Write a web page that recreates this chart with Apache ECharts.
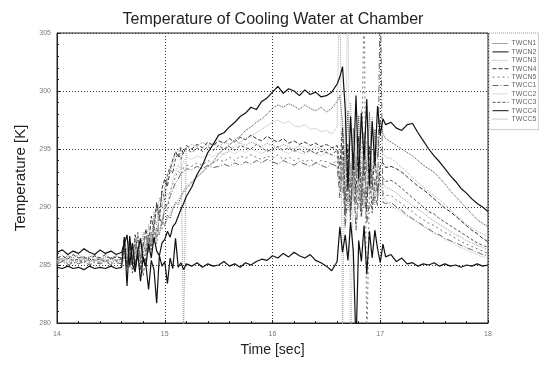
<!DOCTYPE html>
<html>
<head>
<meta charset="utf-8">
<script src="https://cdn.jsdelivr.net/npm/echarts@6/dist/echarts.min.js"></script>
<style>
  html, body { margin: 0; padding: 0; background: #fff; }
  #chart { width: 546px; height: 366px; }
</style>
</head>
<body>
<div id="chart"></div>
<script>
// time samples [sec], denser where the signals jump around
const time = [
  14.00, 14.05, 14.10, 14.15, 14.20, 14.25, 14.30, 14.35, 14.40, 14.45, 14.50, 14.55, 14.60,
  14.625, 14.65, 14.675, 14.70, 14.725, 14.75, 14.775, 14.80, 14.825, 14.85, 14.875, 14.90,
  14.925, 14.95, 14.975, 15.00, 15.025, 15.05, 15.075, 15.10, 15.125, 15.15, 15.175, 15.20,
  15.25, 15.30, 15.35, 15.40, 15.45, 15.50, 15.55, 15.60, 15.65, 15.70, 15.75, 15.80, 15.85, 15.90,
  15.95, 16.00, 16.05, 16.10, 16.15, 16.20, 16.25, 16.30, 16.35, 16.40, 16.45, 16.50, 16.55, 16.60,
  16.625, 16.65, 16.675, 16.70, 16.725, 16.75, 16.775, 16.80, 16.825, 16.85, 16.875, 16.90,
  16.925, 16.95, 16.975, 17.00, 17.025, 17.05,
  17.10, 17.15, 17.20, 17.25, 17.30, 17.35, 17.40, 17.45, 17.50, 17.55, 17.60, 17.65, 17.70,
  17.75, 17.80, 17.85, 17.90, 17.95, 18.00
];

const twcn1 = [
  285.7, 285.5, 285.8, 285.6, 285.9, 285.5, 285.7, 285.8, 285.4, 285.7, 285.6, 285.8, 285.5,
  286.2, 285.1, 286.9, 285.6, 286.4, 287.2, 285.8, 286.6, 287.5, 286.1, 287.8, 286.9, 288.2, 287.6, 288.9, 288.4, 289.3, 289.0, 289.8, 290.4, 290.2, 290.9, 291.3, 291.6,
  292.1, 292.6, 293.0, 293.5, 293.9, 294.6, 295.0, 295.3, 295.8, 296.1, 296.6, 296.9, 297.3, 297.6, 298.0, 298.5, 298.8, 298.6, 298.9, 298.7, 298.4, 298.8, 298.5, 298.3, 298.6, 298.2, 298.5, 299.1,
  299.6, 297.2, 293.4, 298.3, 291.6, 296.8, 292.7, 297.9, 290.8, 296.4, 293.1, 298.2, 291.9, 296.7, 294.2, 297.5, 296.3, 295.9,
  295.6, 295.3, 295.0, 294.7, 294.4, 294.0, 293.6, 293.3, 293.0, 292.5, 292.0, 291.4, 290.9, 290.4, 289.9, 289.4, 288.9, 288.6, 288.3
];
const twcn2 = [
  286.1, 286.3, 285.9, 286.2, 286.0, 286.4, 286.1, 285.9, 286.3, 286.0, 286.2, 285.9, 286.1,
  286.8, 287.6, 285.0, 286.9, 284.6, 286.2, 287.3, 285.4, 284.9, 286.8, 285.6, 287.4, 286.2, 285.8, 286.9, 287.2, 287.9, 287.4, 288.3, 288.6, 289.2, 289.8, 290.3, 290.9,
  291.7, 292.8, 293.6, 294.7, 295.4, 296.2, 296.4, 296.9, 297.3, 297.8, 298.1, 298.6, 298.4, 299.1, 299.4, 299.9, 300.4, 299.8, 300.2, 300.0, 299.6, 300.1, 299.7, 299.9, 299.5, 299.6, 299.9, 300.6,
  301.2, 302.1, 298.4, 291.5, 297.8, 293.2, 299.6, 292.4, 298.1, 294.0, 299.3, 291.8, 297.4, 293.6, 298.7, 296.2, 297.6, 297.1,
  297.3, 296.8, 296.6, 297.1, 297.2, 296.4, 295.7, 295.0, 294.4, 293.9, 293.3, 292.7, 292.2, 291.6, 291.2, 290.7, 290.3, 290.0, 289.6
];
const twcn3 = [
  285.4, 285.6, 285.3, 285.5, 285.4, 285.7, 285.3, 285.5, 285.6, 285.3, 285.5, 285.4, 285.6,
  285.9, 286.5, 285.3, 286.8, 285.7, 286.3, 287.1, 286.0, 286.9, 287.4, 286.6, 287.8, 287.2, 288.1, 288.6, 288.3, 289.0, 289.5, 289.9, 290.2, 290.7, 291.0, 291.4, 291.8,
  292.2, 292.6, 293.0, 293.4, 293.8, 294.2, 294.6, 294.9, 295.2, 295.6, 295.9, 296.1, 296.4, 296.7, 297.0, 297.3, 297.5, 297.2, 297.4, 297.0, 296.9, 297.1, 296.7, 296.8, 296.5, 296.6, 296.3, 296.9,
  312.0, 279.0, 297.5, 293.1, 299.0, 291.4, 296.2, 293.8, 298.4, 292.3, 295.7, 294.6, 297.8, 293.0, 296.1, 295.0, 294.6, 294.3,
  294.2, 293.8, 293.4, 293.0, 292.5, 292.1, 291.7, 291.3, 291.0, 290.6, 290.2, 289.8, 289.3, 288.9, 288.5, 288.2, 287.9, 287.7, 287.5
];
const twcn4 = [
  285.6, 285.8, 285.5, 285.9, 285.6, 285.7, 285.4, 285.8, 285.6, 285.9, 285.5, 285.7, 285.6,
  287.4, 284.8, 286.9, 285.2, 287.6, 285.9, 284.6, 286.8, 288.1, 286.5, 289.2, 287.9, 290.4, 289.1, 291.6, 292.4, 291.8, 293.2, 294.1, 294.8, 294.3, 295.1, 294.6, 295.3,
  295.0, 295.4, 295.1, 295.6, 295.3, 295.7, 295.5, 295.9, 295.6, 296.0, 295.8, 296.2, 295.9, 295.7, 296.1, 295.8, 295.6, 295.9, 295.5, 295.7, 295.4, 295.6, 295.3, 295.5, 295.2, 295.4, 295.1, 295.3,
  293.5, 296.8, 290.6, 295.4, 289.8, 294.7, 291.2, 296.1, 290.3, 293.9, 289.6, 295.2, 291.5, 294.8, 290.9, 293.6, 293.8, 293.4,
  293.5, 293.3, 293.0, 292.6, 292.2, 291.8, 291.5, 291.1, 290.7, 290.3, 289.9, 289.6, 289.2, 288.8, 288.4, 288.0, 287.7, 287.3, 287.0
];
const twcn5 = [
  285.2, 285.4, 285.1, 285.3, 285.2, 285.4, 285.1, 285.3, 285.2, 285.4, 285.1, 285.3, 285.2,
  285.8, 284.9, 286.4, 285.1, 286.9, 285.5, 284.7, 286.2, 285.3, 287.1, 286.0, 287.9, 286.8, 289.3, 288.1, 290.2, 289.6, 291.4, 292.0, 292.6, 293.1, 292.8, 293.4, 293.6,
  293.5, 293.8, 293.6, 294.0, 293.8, 294.1, 293.9, 294.3, 294.0, 294.4, 294.2, 294.5, 294.3, 294.1, 294.4, 294.2, 294.5, 294.1, 294.3, 294.0, 294.2, 293.9, 294.1, 293.8, 294.0, 293.9, 293.7, 294.0,
  291.6, 294.1, 288.7, 292.9, 290.1, 293.5, 288.4, 291.8, 289.7, 310.0, 277.0, 292.1, 290.3, 291.6, 290.8, 291.5, 291.2, 291.0,
  291.0, 290.6, 290.3, 289.9, 289.6, 289.2, 288.9, 288.6, 288.4, 288.1, 287.8, 287.6, 287.3, 287.0, 286.8, 286.6, 286.4, 286.2, 286.0
];
const twcc1 = [
  285.1, 285.3, 285.0, 285.2, 285.1, 285.3, 285.0, 285.2, 285.1, 285.3, 285.0, 285.2, 285.1,
  285.5, 286.2, 284.8, 285.9, 285.2, 286.6, 285.4, 286.9, 286.1, 287.5, 286.7, 288.3, 287.4, 289.0, 288.6, 289.8, 290.3, 290.9, 291.5, 292.1, 292.4, 292.9, 293.0, 293.3,
  293.2, 293.5, 293.3, 293.6, 293.4, 293.5, 293.7, 293.5, 293.8, 293.6, 293.9, 293.7, 294.0, 293.8, 294.1, 293.9, 293.7, 294.0, 293.8, 293.6, 293.9, 293.7, 293.5, 293.8, 293.6, 293.4, 293.7, 293.5,
  290.8, 293.4, 288.2, 291.6, 289.5, 292.8, 288.0, 290.9, 289.2, 291.7, 288.6, 290.4, 289.9, 291.0, 290.1, 309.0, 290.4, 290.3,
  290.4, 290.0, 289.7, 289.3, 289.0, 288.7, 288.4, 288.1, 287.8, 287.6, 287.3, 287.1, 286.9, 286.7, 286.5, 286.3, 286.1, 285.9, 285.8
];
const twcc2 = [
  285.4, 285.2, 285.5, 285.3, 285.4, 285.6, 285.3, 285.5, 285.2, 285.4, 285.3, 285.5, 285.4,
  286.0, 285.4, 286.7, 285.0, 286.3, 285.6, 287.0, 285.8, 286.5, 287.6, 286.9, 288.4, 287.5, 289.6, 288.8, 290.5, 291.2, 290.8, 292.4, 293.0, 293.6, 293.2, 294.0, 294.3,
  294.1, 294.4, 294.2, 294.6, 294.3, 294.7, 294.5, 294.8, 294.6, 294.9, 294.7, 295.0, 294.8, 294.6, 294.9, 294.7, 295.0, 294.8, 294.6, 294.9, 294.7, 294.5, 294.8, 294.6, 294.4, 294.7, 294.5, 294.3,
  292.3, 293.5, 291.1, 310.0, 276.0, 292.6, 290.4, 293.9, 289.8, 292.2, 291.4, 293.1, 290.6, 292.5, 290.9, 292.0, 291.1, 290.6,
  290.1, 289.8, 289.5, 289.2, 288.9, 288.6, 288.3, 288.0, 287.7, 287.5, 287.2, 287.0, 286.7, 286.5, 286.3, 286.1, 285.9, 285.7, 285.6
];
const twcc3 = [
  285.5, 285.3, 285.6, 285.4, 285.5, 285.2, 285.6, 285.4, 285.5, 285.3, 285.6, 285.4, 285.5,
  286.4, 285.0, 287.3, 284.3, 286.1, 287.8, 285.2, 284.1, 285.9, 287.6, 286.3, 288.8, 290.2, 288.9, 291.4, 290.6, 292.8, 293.5, 292.9, 294.2, 294.6, 294.1, 294.8, 295.0,
  294.7, 295.1, 294.8, 295.2, 294.9, 295.3, 295.0, 295.2, 294.9, 295.3, 295.1, 295.0, 295.4, 295.1, 294.8, 295.0, 295.2, 294.9, 295.1, 294.8, 295.0, 294.7, 294.9, 294.6, 294.8, 294.7, 294.5, 294.9,
  292.1, 295.3, 289.4, 293.8, 288.9, 294.6, 290.2, 292.7, 289.1, 295.0, 290.8, 293.2, 289.5, 292.4, 291.3, 292.8, 292.5, 292.2,
  292.3, 292.0, 291.6, 291.2, 290.8, 290.4, 290.0, 289.6, 289.4, 289.0, 288.7, 288.4, 288.1, 287.8, 287.5, 287.2, 286.9, 286.7, 286.5
];
const twcc4 = [
  284.8, 284.7, 284.9, 284.7, 284.8, 284.6, 284.9, 284.7, 284.8, 284.7, 284.9, 284.7, 284.8,
  287.4, 283.2, 287.5, 285.1, 284.4, 286.1, 283.6, 285.7, 285.0, 282.9, 285.4, 284.6, 281.7, 285.8, 284.9, 285.3, 283.4, 285.6, 284.7, 287.3, 284.8, 285.2, 284.6, 285.1,
  284.9, 285.2, 284.8, 285.1, 284.9, 285.0, 285.3, 284.9, 285.1, 284.8, 285.2, 285.0, 285.3, 285.5, 285.4, 285.8, 285.6, 286.0, 285.7, 286.1, 285.8, 285.6, 285.9, 285.4, 285.2, 284.9, 284.5, 285.3,
  288.3, 286.1, 287.6, 285.4, 288.7, 286.2, 278.0, 287.1, 285.3, 288.4, 284.2, 287.9, 285.6, 288.0, 286.4, 285.2, 286.8, 285.7,
  285.9, 285.3, 285.6, 285.1, 285.2, 284.9, 285.1, 285.0, 285.2, 284.9, 285.1, 284.9, 285.0, 284.8, 285.0, 284.9, 285.1, 284.9, 285.0
];
const twcc5 = [
  285.3, 285.5, 285.2, 285.4, 285.3, 285.5, 285.2, 285.4, 285.3, 285.5, 285.2, 285.4, 285.3,
  285.7, 286.5, 285.1, 286.0, 287.2, 285.5, 286.4, 287.8, 286.3, 288.5, 287.1, 289.6, 288.4, 290.8, 289.9, 291.7, 292.5, 293.3, 293.9, 294.6, 294.9, 295.2, 279.0, 295.1,
  295.4, 295.2, 295.6, 295.3, 295.5, 295.2, 295.6, 295.4, 295.7, 295.5, 295.3, 295.6, 295.4, 295.2, 295.5, 295.3, 295.1, 295.4, 295.2, 295.0, 295.3, 295.1, 294.9, 295.2, 295.0, 294.8, 295.1, 294.9,
  293.6, 291.2, 295.0, 289.7, 293.8, 290.5, 294.4, 291.3, 292.6, 289.9, 293.7, 291.0, 292.8, 290.2, 293.4, 291.8, 292.0, 291.7,
  291.5, 291.2, 290.8, 290.5, 290.1, 289.8, 289.5, 289.1, 288.8, 288.5, 288.2, 287.9, 287.6, 287.4, 287.1, 286.9, 286.7, 286.5, 286.3
];

const seriesNames = ["TWCN1", "TWCN2", "TWCN3", "TWCN4", "TWCN5", "TWCC1", "TWCC2", "TWCC3", "TWCC4", "TWCC5"];
const seriesValues = [twcn1, twcn2, twcn3, twcn4, twcn5, twcc1, twcc2, twcc3, twcc4, twcc5];
const xTicks = [14, 15, 16, 17, 18];
const yTicks = [280, 285, 290, 295, 300, 305];

// line looks per series: [colour, dash, width]
const looks = [
  ["#444", [1, 1], 1],
  ["#111", "solid", 1.2],
  ["#aaa", [1, 1], 1],
  ["#333", [4, 2], 1],
  ["#777", [2, 3], 1],
  ["#666", [6, 2, 1, 2], 1],
  ["#bbb", [1, 1], 1],
  ["#555", [3, 2], 1],
  ["#111", "solid", 1.2],
  ["#999", [1, 1], 1]
];

const chart = echarts.init(document.getElementById("chart"));
const font = "Liberation Sans, Arial, sans-serif";

const option = {
  animation: false,
  backgroundColor: "#fff",
  title: {
    text: "Temperature of Cooling Water at Chamber",
    left: "center",
    top: 7,
    textStyle: { color: "#222", fontSize: 16, fontWeight: "normal", fontFamily: font }
  },
  legend: {
    orient: "vertical",
    left: 489,
    top: 33,
    width: 57,
    padding: [7, 2, 7, 3],
    itemWidth: 16,
    itemHeight: 8,
    itemGap: 1.4,
    borderColor: "#999",
    borderWidth: 1,
    borderType: "dotted",
    itemStyle: { color: "rgba(0,0,0,0)", borderWidth: 0, opacity: 0 },
    lineStyle: { width: 1 },
    textStyle: { color: "#666", fontSize: 7, fontFamily: font, padding: [0, 0, 0, -2] },
    data: seriesNames
  },
  grid: {
    left: 57,
    right: 58,
    top: 33,
    bottom: 43,
    show: true,
    borderColor: "#222",
    borderWidth: 1
  },
  xAxis: {
    type: "value",
    min: xTicks[0],
    max: xTicks[xTicks.length - 1],
    interval: 1,
    name: "Time [sec]",
    nameLocation: "middle",
    nameGap: 19,
    nameTextStyle: { color: "#222", fontSize: 14, fontFamily: font },
    axisLine: { show: true, lineStyle: { color: "#222" } },
    axisTick: { show: true, inside: true, length: 3, lineStyle: { color: "#222" } },
    minorTick: { show: true, splitNumber: 5, length: 2, lineStyle: { color: "#222" } },
    axisLabel: { color: "#777", fontSize: 7, margin: 8, fontFamily: font },
    splitLine: { show: true, lineStyle: { color: "#333", type: [1, 2] } }
  },
  yAxis: {
    type: "value",
    min: yTicks[0],
    max: yTicks[yTicks.length - 1],
    interval: 5,
    name: "Temperature [K]",
    nameLocation: "middle",
    nameGap: 27,
    nameTextStyle: { color: "#222", fontSize: 15, fontFamily: font },
    axisLine: { show: true, lineStyle: { color: "#222" } },
    axisTick: { show: true, inside: true, length: 3, lineStyle: { color: "#222" } },
    minorTick: { show: true, splitNumber: 5, length: 2, lineStyle: { color: "#222" } },
    axisLabel: { color: "#777", fontSize: 7, margin: 6, fontFamily: font },
    splitLine: { show: true, lineStyle: { color: "#333", type: [1, 2] } }
  },
  series: seriesNames.map((name, i) => ({
    name: name,
    type: "line",
    symbol: "none",
    clip: true,
    z: i === 1 || i === 8 ? 5 : 3,
    data: time.map((t, k) => [t, seriesValues[i][k]]),
    lineStyle: { color: looks[i][0], type: looks[i][1], width: looks[i][2] },
    itemStyle: { color: looks[i][0] }
  }))
};

chart.setOption(option);
</script>
</body>
</html>
